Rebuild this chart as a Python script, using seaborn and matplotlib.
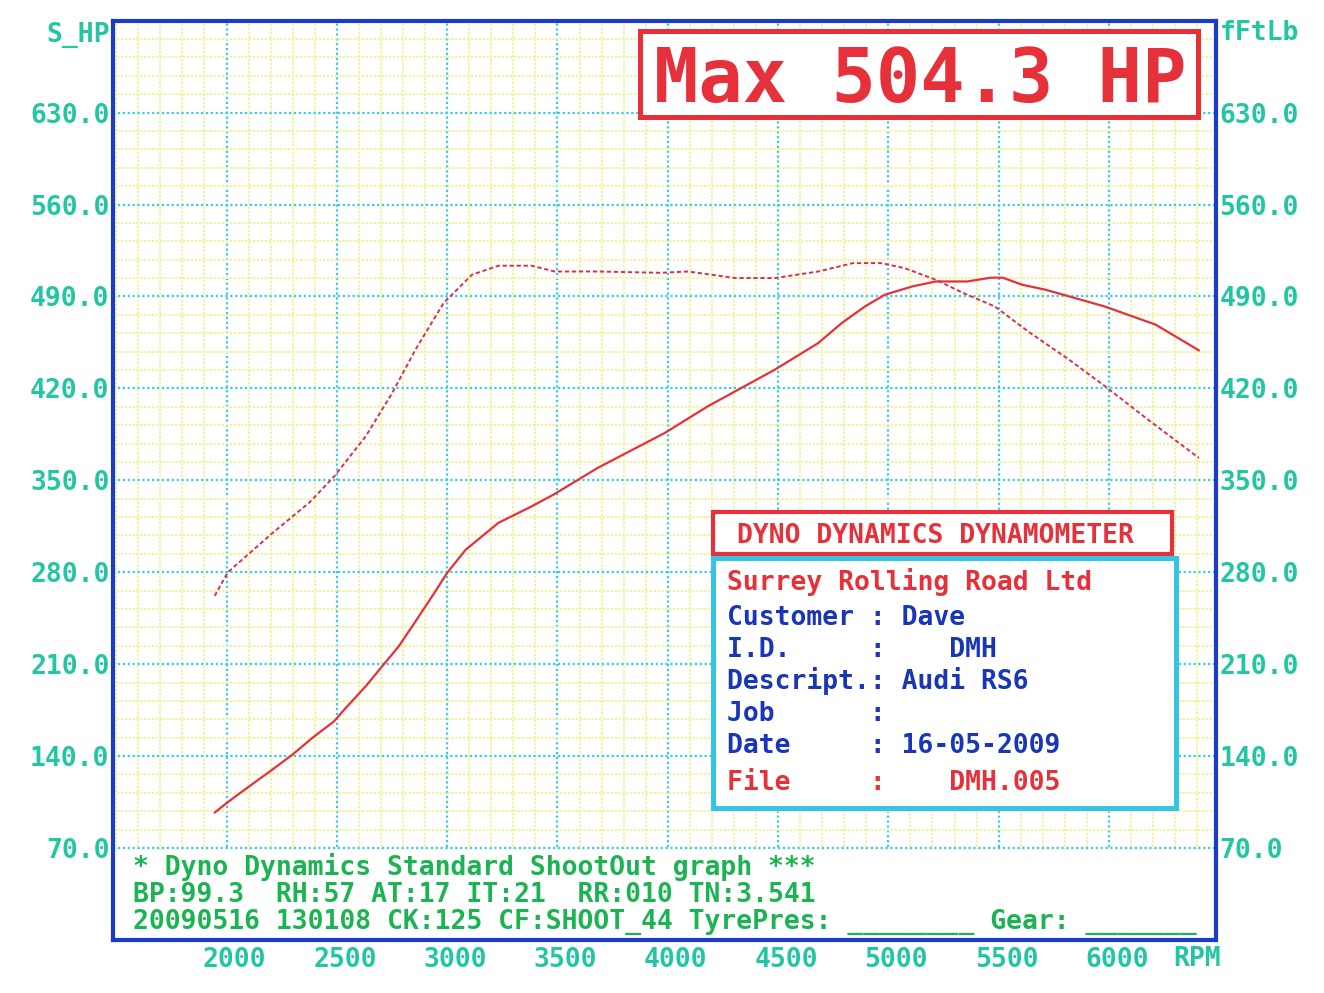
import numpy as np
import pandas as pd
import matplotlib
matplotlib.use("Agg")
import matplotlib.pyplot as plt
import seaborn as sns
from matplotlib.patches import Rectangle
from matplotlib.transforms import ScaledTranslation

# power curve (S_HP)
rpm_power = [1946, 2014, 2104, 2209, 2300, 2390, 2488, 2541, 2631, 2706, 2781, 2842,
             2932, 3000, 3083, 3232, 3381, 3481, 3684, 3986, 4181, 4485, 4682, 4789,
             4894, 4984, 5108, 5215, 5357, 5465, 5518, 5607, 5713, 5980, 6212, 6408]
power_hp = [97.0, 106.0, 117.1, 129.9, 141.3, 154.0, 166.6, 176.8, 193.2, 208.5, 223.7, 238.9,
            261.7, 279.5, 297.0, 317.6, 330.0, 339.0, 359.6, 386.0, 406.3, 434.2, 454.5, 469.8,
            482.4, 491.3, 497.6, 501.4, 501.4, 504.3, 504.3, 498.9, 495.1, 482.4, 468.5, 448.9]

# torque curve (fFtLb)
rpm_torque = [1946, 2006, 2209, 2375, 2488, 2631, 2751, 2856, 2984, 3112, 3232, 3383,
              3488, 3684, 3968, 4093, 4307, 4485, 4682, 4840, 4966, 5073, 5215, 5340,
              5482, 5644, 5820, 5983, 6177, 6408]
torque_ftlb = [262.0, 280.0, 310.0, 333.0, 353.0, 383.5, 416.5, 449.4, 485.0, 506.5, 513.4, 513.4,
               509.0, 509.0, 508.0, 509.0, 504.0, 504.0, 509.0, 515.4, 515.4, 511.6, 502.7, 492.6,
               482.4, 462.1, 441.8, 421.5, 396.2, 367.0]

x_ticks = [2000, 2500, 3000, 3500, 4000, 4500, 5000, 5500, 6000]
y_ticks = [70, 140, 210, 280, 350, 420, 490, 560, 630]
max_hp = 504.3

info_title = "DYNO DYNAMICS DYNAMOMETER"
info_lines = ["Surrey Rolling Road Ltd",
              "Customer : Dave",
              "I.D.     :    DMH",
              "Descript.: Audi RS6",
              "Job      :",
              "Date     : 16-05-2009",
              "File     :    DMH.005"]
info_colors = ["red", "blue", "blue", "blue", "blue", "blue", "red"]

footer_lines = ["* Dyno Dynamics Standard ShootOut graph ***",
                "BP:99.3  RH:57 AT:17 IT:21  RR:010 TN:3.541",
                "20090516 130108 CK:125 CF:SHOOT_44 TyrePres: ________ Gear: _______"]

RED = "#e6303a"
BLUE = "#1a36b8"
TEAL = "#22c6a2"
GREEN = "#1cb452"
CYAN = "#38cce0"
YELLOW = "#f5f09a"

sns.set_style("white")
plt.rcParams['font.family'] = ['DejaVu Sans Mono']

fig = plt.figure(figsize=(13.24, 9.93), dpi=100)
ax = fig.add_axes([0.0853, 0.0534, 0.8331, 0.9258])

df_p = pd.DataFrame({"rpm": rpm_power, "hp": power_hp})
df_t = pd.DataFrame({"rpm": rpm_torque, "tq": torque_ftlb})

sns.lineplot(data=df_p, x="rpm", y="hp", ax=ax, color=RED, linewidth=1.6, zorder=3)
sns.lineplot(data=df_t, x="rpm", y="tq", ax=ax, color="#d8304c", linewidth=1.4,
             linestyle=(0, (2.2, 1.4)), zorder=3)

ax.set_xlim(1485, 6485)
ax.set_ylim(0, 700)
ax.set_xticks(x_ticks)
ax.set_xticks(np.arange(1500, 6500, 100), minor=True)
ax.set_yticks(y_ticks)
ax.set_yticks(np.arange(0, 700, 14), minor=True)
ax.set_xticklabels([str(v) for v in x_ticks])
ax.set_yticklabels([f"{v:.1f}" for v in y_ticks])
ax.set_xlabel("")
ax.set_ylabel("")

ax.set_axisbelow(True)
ax.grid(which="minor", color=YELLOW, linestyle=(0, (1.2, 0.8)), linewidth=1.4)
ax.grid(which="major", color=CYAN, linestyle=(0, (1.0, 1.2)), linewidth=1.6)
# footer strip has no grid
ax.axhspan(0, 68.8, color="white", zorder=1)

ax.tick_params(which="both", length=0)
ax.tick_params(axis="y", labelleft=True, labelright=True, labelsize=19,
               labelcolor=TEAL, pad=2.5)
ax.tick_params(axis="x", labelsize=19, labelcolor=TEAL, pad=5)
for lab in ax.get_yticklabels():
    lab.set_fontweight("bold")
for lab in ax.get_xticklabels():
    lab.set_fontweight("bold")
    lab.set_transform(lab.get_transform() + ScaledTranslation(8 / 100, 0, fig.dpi_scale_trans))

for s in ax.spines.values():
    s.set_visible(True)
    s.set_color("#1a3cc8")
    s.set_linewidth(3)

# axis captions
fig.text(110 / 1324, 1 - 35 / 993, "S_HP", ha="right", va="center", fontsize=19,
         color=TEAL, fontweight="bold")
fig.text(1220 / 1324, 1 - 33 / 993, "fFtLb", ha="left", va="center", fontsize=19,
         color=TEAL, fontweight="bold")
fig.text(1197 / 1324, 1 - 959 / 993, "RPM", ha="center", va="center", fontsize=19,
         color=TEAL, fontweight="bold")

# Max HP box
ax.add_patch(Rectangle((0.4778, 0.8952), 0.5059, 0.0936, transform=ax.transAxes,
                       facecolor="white", edgecolor=RED, linewidth=3.6, zorder=4))
ax.text(0.7316, 0.9115, "Max {:.1f} HP".format(max_hp), transform=ax.transAxes,
        ha="center", va="baseline", fontsize=53, fontweight="bold", color=RED, zorder=5)

# info box
ax.add_patch(Rectangle((0.544, 0.4195), 0.416, 0.0455, transform=ax.transAxes,
                       facecolor="white", edgecolor=RED, linewidth=3.0, zorder=4))
ax.text(0.5657, 0.4318, info_title, transform=ax.transAxes, ha="left", va="baseline",
        fontsize=19, fontweight="bold", color=RED, zorder=5)
ax.add_patch(Rectangle((0.544, 0.1436), 0.4195, 0.272, transform=ax.transAxes,
                       facecolor="white", edgecolor="#36c4e6", linewidth=3.6, zorder=4))
info_base = [0.3807, 0.3427, 0.3079, 0.2730, 0.2382, 0.2034, 0.1632]
for txt, col, yb in zip(info_lines, info_colors, info_base):
    ax.text(0.5567, yb, txt, transform=ax.transAxes, ha="left", va="baseline",
            fontsize=19, fontweight="bold", color=RED if col == "red" else BLUE, zorder=5)

# footer text
for txt, yb in zip(footer_lines, [0.0707, 0.0413, 0.0120]):
    ax.text(0.0181, yb, txt, transform=ax.transAxes, ha="left", va="baseline",
            fontsize=19, fontweight="bold", color=GREEN, zorder=5)

fig.savefig("out.png", dpi=100, facecolor="white")
